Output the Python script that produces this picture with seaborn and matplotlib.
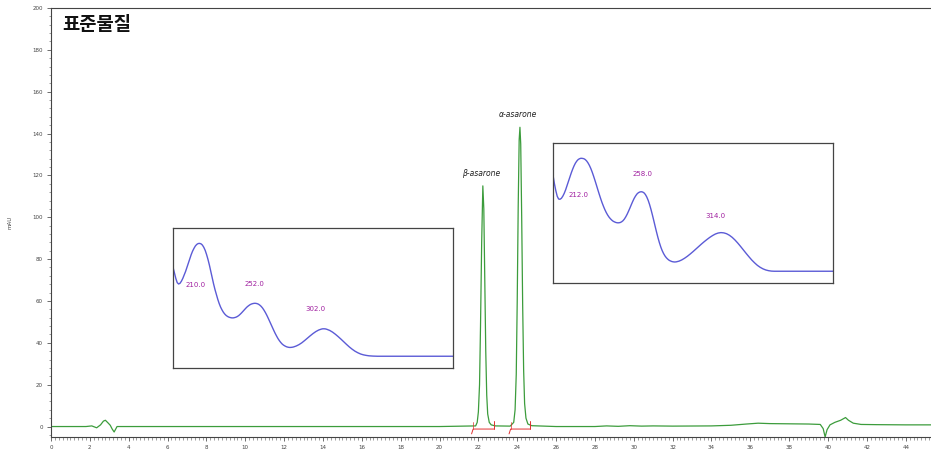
import numpy as np
import pandas as pd
import matplotlib
matplotlib.use("Agg")
import matplotlib.pyplot as plt
from matplotlib.ticker import MultipleLocator
import seaborn as sns

# ---------------- data ----------------
title_text = "표준물질"
y_label = "mAU"

# chromatogram (time in min, signal in mAU)
chrom_time = [0.0, 1.8, 2.1, 2.35, 2.55, 2.7, 2.8, 2.95, 3.05, 3.15, 3.25, 3.4, 6.0, 10.0, 15.0, 20.0,
              21.86, 21.94, 22.0, 22.06, 22.11, 22.17, 22.23, 22.28, 22.33, 22.38, 22.43, 22.48, 22.56, 22.66, 22.88,
              23.64, 23.82, 23.89, 23.95, 24.0, 24.05, 24.1, 24.14, 24.18, 24.23, 24.28, 24.33, 24.38, 24.45, 24.55, 24.75,
              26.0, 28.0, 28.6, 29.2, 29.8, 30.4, 31.0, 32.0, 34.0, 35.0, 35.8, 36.4, 37.0, 38.0,
              39.0, 39.6, 39.75, 39.85, 39.95, 40.1, 40.35, 40.65, 40.9, 41.05, 41.3, 41.7, 42.5, 44.0, 45.4]
chrom_mau = [0.0, 0.0, 0.3, -0.6, 0.8, 2.6, 3.0, 1.6, 0.6, -1.2, -2.6, 0.0, 0.0, 0.0, 0.0, 0.0,
             0.3, 2.0, 7.0, 20.0, 48.0, 88.0, 115.0, 104.0, 70.0, 36.0, 15.0, 6.0, 2.0, 0.8, 0.3,
             0.2, 2.0, 8.0, 25.0, 60.0, 105.0, 137.0, 143.0, 135.0, 100.0, 58.0, 27.0, 11.0, 4.0, 1.2, 0.4,
             0.0, 0.0, 0.3, 0.1, 0.4, 0.2, 0.3, 0.2, 0.3, 0.6, 1.2, 1.6, 1.4, 1.3,
             1.2, 1.0, -1.0, -5.0, -1.5, 0.8, 2.0, 3.0, 4.3, 3.0, 1.6, 1.0, 0.9, 0.8, 0.8]

# peak names, apex times and heights
peak_names = ["β-asarone", "α-asarone"]
peak_times = [22.2, 24.14]
peak_heights = [115.0, 143.0]
# integration marks (start, end)
integ_start = [21.65, 23.58]
integ_end = [22.8, 24.65]

# UV spectra (wavelength nm, relative absorbance)
spec1_wl = [200, 201, 202, 203, 204, 205, 206, 207, 208, 209, 210, 211, 212, 213, 214, 215, 216, 217,
            218, 219, 220, 221, 222, 223, 224, 225, 226, 227, 228, 229, 230, 231, 232, 233, 234, 235,
            236, 237, 238, 239, 240, 241, 242, 243, 244, 245, 246, 247, 248, 249, 250, 251, 252, 253,
            254, 255, 256, 257, 258, 259, 260, 261, 262, 263, 264, 265, 266, 267, 268, 269, 270, 271,
            272, 273, 274, 275, 276, 277, 278, 279, 280, 281, 282, 283, 284, 285, 286, 288, 290, 292,
            294, 296, 298, 300, 302, 304, 306, 307, 308, 309, 310, 312, 314, 316, 318, 320, 322, 324,
            326, 328, 330, 332, 334, 336, 338, 340, 343, 346, 400]
spec1_ab = [0.72, 0.68, 0.64, 0.61, 0.60, 0.605, 0.62, 0.64, 0.665, 0.69, 0.72, 0.75, 0.78, 0.81,
            0.835, 0.855, 0.872, 0.883, 0.889, 0.89, 0.887, 0.878, 0.862, 0.84, 0.81, 0.775, 0.735,
            0.69, 0.645, 0.60, 0.56, 0.525, 0.49, 0.46, 0.435, 0.415, 0.398, 0.385, 0.375, 0.368,
            0.363, 0.36, 0.358, 0.358, 0.36, 0.363, 0.368, 0.375, 0.384, 0.394, 0.405, 0.416, 0.427,
            0.437, 0.445, 0.452, 0.457, 0.46, 0.462, 0.462, 0.46, 0.456, 0.449, 0.44, 0.428, 0.413,
            0.396, 0.377, 0.356, 0.334, 0.312, 0.29, 0.268, 0.247, 0.228, 0.21, 0.195, 0.182, 0.171,
            0.163, 0.157, 0.152, 0.149, 0.147, 0.147, 0.148, 0.15, 0.157, 0.167, 0.18, 0.196, 0.213,
            0.23, 0.246, 0.26, 0.271, 0.278, 0.28, 0.28, 0.279, 0.276, 0.268, 0.256, 0.241, 0.224,
            0.206, 0.187, 0.168, 0.15, 0.134, 0.12, 0.109, 0.1, 0.094, 0.09, 0.087, 0.085, 0.084, 0.084]
spec1_labels = ["210.0", "252.0", "302.0"]
spec1_label_wl = [216, 258, 302]
spec1_label_y = [0.59, 0.60, 0.42]

spec2_wl = [200, 201, 202, 203, 204, 205, 206, 207, 208, 209, 210, 211, 212, 213, 214, 215, 216, 217,
            218, 219, 220, 221, 222, 223, 224, 225, 226, 227, 228, 229, 230, 231, 232, 233, 234, 235,
            236, 237, 238, 239, 240, 241, 242, 243, 244, 245, 246, 247, 248, 249, 250, 251, 252, 253,
            254, 255, 256, 257, 258, 259, 260, 261, 262, 263, 264, 265, 266, 267, 268, 269, 270, 271,
            272, 273, 274, 275, 276, 277, 278, 279, 280, 281, 282, 283, 284, 285, 286, 287, 288, 290,
            292, 294, 296, 298, 300, 302, 304, 306, 308, 310, 312, 314, 316, 318, 320, 322, 324, 326,
            328, 330, 332, 334, 336, 338, 340, 342, 344, 346, 348, 350, 352, 354, 356, 358, 400]
spec2_ab = [0.77, 0.71, 0.66, 0.62, 0.60, 0.598, 0.605, 0.62, 0.64, 0.665, 0.695, 0.725, 0.755,
            0.785, 0.812, 0.836, 0.856, 0.871, 0.882, 0.888, 0.891, 0.89, 0.888, 0.882, 0.872, 0.858,
            0.84, 0.818, 0.792, 0.763, 0.732, 0.70, 0.667, 0.635, 0.604, 0.575, 0.549, 0.525, 0.504,
            0.486, 0.471, 0.459, 0.449, 0.441, 0.436, 0.432, 0.43, 0.43, 0.432, 0.437, 0.445, 0.457,
            0.473, 0.492, 0.514, 0.537, 0.561, 0.584, 0.605, 0.622, 0.636, 0.645, 0.65, 0.652, 0.65,
            0.644, 0.632, 0.614, 0.59, 0.56, 0.525, 0.486, 0.445, 0.403, 0.362, 0.323, 0.288, 0.257,
            0.231, 0.21, 0.193, 0.18, 0.17, 0.162, 0.157, 0.153, 0.151, 0.15, 0.151, 0.156, 0.165,
            0.177, 0.191, 0.207, 0.224, 0.242, 0.26, 0.278, 0.295, 0.311, 0.326, 0.339, 0.35, 0.357,
            0.36, 0.358, 0.352, 0.341, 0.326, 0.307, 0.285, 0.261, 0.236, 0.211, 0.187, 0.164, 0.144,
            0.126, 0.112, 0.101, 0.093, 0.088, 0.085, 0.084, 0.084]
spec2_labels = ["212.0", "258.0", "314.0"]
spec2_label_wl = [218, 264, 316]
spec2_label_y = [0.63, 0.78, 0.48]

# ---------------- style ----------------
sns.set_theme(style="ticks")
plt.rcParams["font.family"] = ["DejaVu Sans", "Noto Sans CJK KR"]

W, H = 931, 455
fig = plt.figure(figsize=(W / 100, H / 100), dpi=100)
ax = fig.add_axes([51 / W, 1 - 437 / H, (W - 51) / W, (437 - 8) / H])

chrom = pd.DataFrame({"time": chrom_time, "mau": chrom_mau})
sns.lineplot(data=chrom, x="time", y="mau", ax=ax, color="#3c9c3c", lw=0.9, sort=False)

ax.set_xlim(0, 45.3)
ax.set_ylim(-5, 200)
ax.xaxis.set_major_locator(MultipleLocator(2))
ax.xaxis.set_minor_locator(MultipleLocator(0.2))
ax.yaxis.set_major_locator(MultipleLocator(20))
ax.yaxis.set_minor_locator(MultipleLocator(4))
ax.tick_params(axis="both", which="major", labelsize=4, colors="#555555", length=3, width=0.6,
               labelcolor="#444444", pad=3)
ax.tick_params(axis="both", which="minor", length=1.8, width=0.4, colors="#555555")
for s in ["left", "bottom", "top"]:
    ax.spines[s].set_color("#444444")
    ax.spines[s].set_linewidth(0.8)
ax.spines["right"].set_visible(False)
ax.set_xlabel("")
ax.set_ylabel(y_label, fontsize=4, color="#444444", labelpad=14)

# integration marks
for s, e in zip(integ_start, integ_end):
    ax.plot([s, s + 0.08, e], [-3.5, -1.2, -1.2], color="#e03030", lw=0.7)
    ax.plot([e, e], [-1.2, 2.5], color="#e03030", lw=0.7)
    ax.plot([s + 0.08, s + 0.08], [-1.2, 2.0], color="#e03030", lw=0.5)

# peak labels
for name, t, h in zip(peak_names, peak_times, peak_heights):
    ax.text(t - 0.08, h + 4, name, ha="center", va="bottom", fontsize=5.5, color="#222222", style="italic")

fig.text(62 / W, 1 - 25 / H, title_text, fontsize=13.5, fontweight="bold",
         family=["Noto Sans CJK KR", "DejaVu Sans"], va="center", ha="left", color="#111111")

# insets
def draw_inset(rect, wl, ab, labels, lwl, ly):
    ia = fig.add_axes(rect)
    df = pd.DataFrame({"wl": wl, "ab": ab})
    sns.lineplot(data=df, x="wl", y="ab", ax=ia, color="#5b5bd6", lw=1.0, sort=False)
    ia.set_xlim(200, 400)
    ia.set_ylim(0, 1)
    ia.set_xticks([])
    ia.set_yticks([])
    ia.set_xlabel("")
    ia.set_ylabel("")
    for s in ia.spines.values():
        s.set_visible(True)
        s.set_color("#444444")
        s.set_linewidth(0.9)
    for t, x, y in zip(labels, lwl, ly):
        ia.text(x, y, t, fontsize=5, color="#a020a0", ha="center", va="center")

draw_inset([173 / W, 1 - 368 / H, 280 / W, 140 / H], spec1_wl, spec1_ab,
           spec1_labels, spec1_label_wl, spec1_label_y)
draw_inset([553 / W, 1 - 283 / H, 280 / W, 140 / H], spec2_wl, spec2_ab,
           spec2_labels, spec2_label_wl, spec2_label_y)

fig.savefig("out.png", dpi=100)
